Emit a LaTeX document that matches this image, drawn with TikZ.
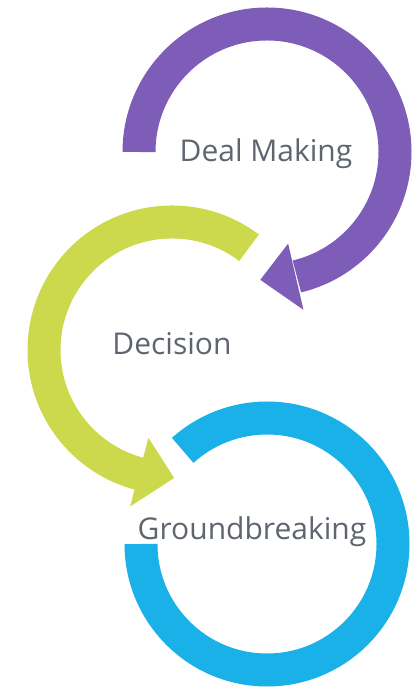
\documentclass[tikz,border=0pt]{standalone}
\usepackage{fontspec}
\setmainfont{Open Sans}
\usepackage{xcolor}
\usetikzlibrary{positioning}

\definecolor{dealpurple}{HTML}{7E5DB8}
\definecolor{decisiongreen}{HTML}{CDD94C}
\definecolor{groundblue}{HTML}{1AB0E8}
\definecolor{labelgray}{HTML}{5F6570}

\begin{document}
\begin{tikzpicture}[
    x=1pt, y=1pt,
    ring/.style={line width=33pt},
    label/.style={font=\fontsize{30}{32}\selectfont, text=labelgray, anchor=base, inner sep=0pt}
]
\useasboundingbox (0,0) rectangle (419,690);

\coordinate (dealc) at (267,538);
\coordinate (decisionc) at (172,340);
\coordinate (groundc) at (267,146);

% purple ring with head
\draw [ring, dealpurple] ([shift={(180:128)}]dealc) arc [start angle=180, end angle=-76.5, radius=128];
\fill [dealpurple] ([shift={(-77:94)}]dealc) -- ([shift={(-93:128)}]dealc) -- ([shift={(-77:162)}]dealc) -- cycle;

% green ring with head
\draw [ring, decisiongreen] ([shift={(53:128)}]decisionc) arc [start angle=53, end angle=255.5, radius=128];
\fill [decisiongreen] ([shift={(255:91)}]decisionc) -- ([shift={(271:128)}]decisionc) -- ([shift={(255:162)}]decisionc) -- cycle;

% blue ring
\draw [ring, groundblue] ([shift={(-180:126)}]groundc) arc [start angle=-180, end angle=132, radius=126];

\node [label] (deal) at (266,528) {Deal Making};
\node [label] (decision) at (172,335) {Decision};
\node [label] (ground) at (252,150) {Groundbreaking};

\end{tikzpicture}
\end{document}
